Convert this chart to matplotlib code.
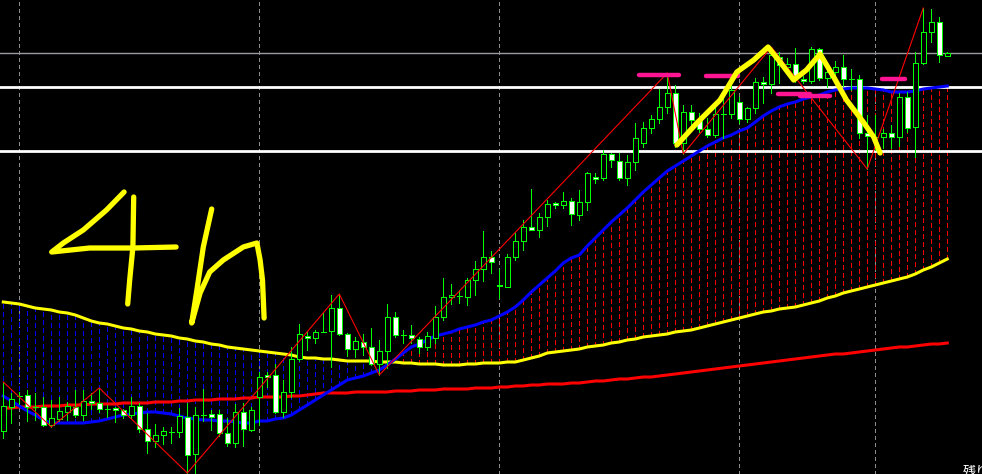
import numpy as np
import matplotlib
matplotlib.use("Agg")
import matplotlib.pyplot as plt

# 4h candles, price in pips above the bottom of the window
opens = [43, 67, 78, 79, 67, 67, 49, 55, 62, 67, 59, 73, 71, 65, 66, 64, 59, 68, 45, 33,
         39, 42, 42, 57, 20, 59, 60, 60, 41, 31, 62, 44, 77, 99, 99, 62, 82, 115, 138, 136,
         142, 143, 166, 140, 125, 132, 127, 110, 123, 157, 139, 139, 135, 127, 136, 157, 177, 178, 177, 194,
         205, 217, 189, 187, 217, 233, 247, 244, 257, 271, 269, 273, 259, 272, 297, 296, 320, 313, 296, 312,
         331, 346, 355, 367, 381, 331, 362, 354, 345, 339, 360, 360, 372, 355, 366, 392, 390, 417, 407, 410,
         395, 393, 425, 396, 402, 407, 395, 395, 341, 337, 337, 341, 337, 377, 347, 411, 442, 452, 418]
highs = [92, 81, 82, 84, 81, 77, 74, 77, 72, 84, 84, 81, 86, 69, 67, 65, 77, 71, 61, 50,
         47, 47, 66, 71, 67, 85, 64, 64, 56, 70, 71, 67, 102, 102, 110, 94, 127, 150, 142, 144,
         161, 179, 180, 141, 137, 140, 146, 134, 170, 162, 144, 149, 137, 142, 168, 196, 190, 184, 196, 213,
         243, 223, 205, 220, 241, 254, 285, 261, 274, 272, 282, 276, 284, 302, 301, 324, 321, 321, 319, 351,
         352, 359, 385, 401, 389, 369, 369, 361, 356, 371, 381, 389, 377, 367, 396, 397, 427, 422, 416, 426,
         398, 427, 426, 410, 413, 419, 405, 399, 359, 359, 345, 349, 381, 382, 422, 466, 465, 457, 422]
lows = [36, 51, 70, 53, 54, 48, 47, 53, 54, 57, 54, 65, 62, 57, 52, 56, 56, 42, 21, 27,
        30, 31, 37, 1, 1, 53, 44, 38, 28, 27, 28, 43, 49, 87, 61, 57, 77, 113, 124, 131,
        142, 107, 139, 118, 117, 119, 109, 99, 106, 137, 131, 131, 121, 124, 131, 154, 170, 171, 169, 179,
        193, 201, 176, 187, 214, 224, 244, 237, 248, 266, 266, 249, 254, 264, 291, 294, 307, 294, 289, 304,
        327, 341, 351, 361, 327, 320, 347, 342, 337, 337, 336, 356, 351, 352, 361, 371, 381, 391, 403, 392,
        391, 391, 394, 387, 399, 388, 384, 336, 305, 324, 326, 326, 328, 342, 317, 410, 432, 412, 418]
closes = [68, 75, 78.5, 67, 67.5, 49, 56, 63, 68, 59, 73, 71, 65, 65.5, 64, 59, 68, 45, 33, 39,
          43, 42.5, 58, 19, 59, 59.5, 57, 41, 31, 62, 45, 64, 97, 97, 62, 82, 115, 140, 136, 142,
          142.5, 166, 140, 125, 133, 127, 110, 123, 157, 139, 139.5, 136, 127, 138, 157, 177, 179, 178.5, 194, 205,
          217, 212, 188, 217, 233, 247, 244, 257, 270, 269, 273, 260, 272, 301, 295, 320, 314, 296, 312, 336,
          346, 355, 367, 381, 331, 362, 354, 345, 339, 360, 360.5, 384, 355, 366, 392, 390, 419, 409, 410, 398,
          393, 425, 396, 402, 407, 395, 395.5, 341, 338, 337.5, 341, 337, 377, 346, 411, 442, 452, 419, 421]

# moving averages, one value per candle
ma_blue = [78, 73, 68, 63, 59, 54, 51, 51, 51, 51, 51, 52, 53, 55, 57, 59, 60, 61, 62, 62,
           61, 60, 58, 56, 55, 54, 54, 53, 53, 52, 51, 51, 53, 53, 55, 56, 59, 64, 69, 74,
           79, 84, 89, 94, 96, 98, 101, 104, 109, 115, 121, 127, 130, 134, 138, 140, 142, 145, 147, 149,
           152, 154, 158, 162, 167, 174, 182, 189, 196, 203, 211, 216, 219, 228, 236, 244, 252, 259, 266, 274,
           282, 289, 296, 303, 308, 313, 318, 323, 328, 332, 336, 339, 343, 346, 352, 358, 363, 367, 370, 372,
           375, 377, 379, 382, 384, 385, 386, 386, 386, 385, 384, 382, 382, 382, 383, 385, 386, 387, 388]
ma_yellow = [172, 171, 170, 168, 166, 165, 164, 162, 161, 159, 156, 153, 151, 150, 148, 146, 145, 143, 142, 140,
             139, 138, 136, 135, 133, 132, 130, 129, 127, 126, 125, 124, 123, 122, 121, 120, 119, 117, 116, 116,
             115, 115, 114, 113, 113, 113, 113, 112, 112, 112, 111, 111, 110, 110, 110, 109, 109, 109, 110, 110,
             111, 111, 111, 112, 112, 114, 116, 118, 121, 122, 123, 124, 125, 127, 128, 129, 131, 132, 134, 135,
             137, 138, 139, 140, 142, 143, 144, 146, 148, 150, 152, 154, 156, 158, 160, 162, 163, 165, 166, 167,
             169, 171, 173, 176, 178, 181, 183, 185, 187, 189, 191, 193, 195, 197, 200, 204, 207, 211, 215]
ma_red = [66, 66, 67, 67, 67, 68, 68, 68, 69, 69, 69, 70, 70, 70, 70, 71, 71, 71, 71, 72,
          72, 72, 73, 73, 74, 74, 74, 75, 75, 75, 76, 76, 77, 77, 77, 77, 78, 78, 79, 80,
          81, 81, 81, 81, 82, 82, 82, 82, 82, 83, 83, 83, 84, 84, 84, 85, 85, 85, 85, 86,
          86, 86, 87, 87, 88, 88, 89, 89, 90, 90, 90, 91, 91, 92, 93, 93, 94, 95, 95, 96,
          97, 97, 98, 99, 100, 101, 102, 103, 104, 105, 106, 107, 108, 109, 110, 111, 112, 113, 114, 115,
          116, 117, 118, 119, 120, 120, 121, 122, 123, 124, 125, 126, 127, 127, 128, 129, 130, 130, 131]

# zigzag turning points: (candle, "H" or "L")
zz_bars = [0, 6, 12, 23, 42, 47, 83, 85, 96, 108, 115]
zz_kind = ["H", "L", "H", "L", "H", "L", "H", "L", "H", "L", "H"]

hlines_grey = [421]
hlines_white = [387, 323]
day_breaks = [2, 32, 62, 92, 109]

# hand drawn stuff
pink_marks = [((79.5, 84.5), 399), ((87.9, 91.9), 398), ((96.8, 100.8), 380),
              ((99.6, 103.3), 378), ((109.9, 112.7), 395)]
m_x = [84.2, 86.7, 89.6, 91.7, 93.8, 95.6, 97.1, 98.8, 100.4, 102.1, 103.8, 105.4, 107.5, 108.8, 109.6]
m_y = [329, 351, 374, 402, 414, 427, 412, 394, 404, 420, 397, 374, 352, 337, 321]
four_a_x = [15.1, 12.9, 10.0, 7.5, 6.05, 10.8, 16.3, 21.6]
four_a_y = [282, 264, 244, 231, 222, 226, 226, 227]
four_b_x = [16.3, 16.2, 15.8, 15.55]
four_b_y = [277, 227, 194, 170]
h_x = [26.05, 25.0, 24.2, 23.55, 24.6, 25.8, 27.5, 30.0, 31.7, 32.1, 32.4, 32.6]
h_y = [265, 227, 184, 151, 181, 202, 214, 227, 231, 214, 194, 156]

o = np.array(opens, float)
h = np.array(highs, float)
l = np.array(lows, float)
c = np.array(closes, float)
x = np.arange(len(o))

fig = plt.figure(figsize=(9.82, 4.74), dpi=100, facecolor="black")
ax = fig.add_axes([0, 0, 1, 1])
ax.set_facecolor("black")
ax.set_xlim(-0.4125, 122.34)
ax.set_ylim(0, 474)
ax.axis("off")

px = 0.72  # one pixel at 100 dpi

# day separators
for d in day_breaks:
    ax.axvline(d, color="#8c8c8c", lw=px, ls=(0, (4, 4)), zorder=0.5, antialiased=False)

# dashed columns between the fast and slow MA
blue = np.array(ma_blue, float)
yel = np.array(ma_yellow, float)
up = blue > yel
dash = (0, (5, 3))
ax.vlines(x[~up], blue[~up], yel[~up], colors="#0000ff", lw=px, linestyles=dash,
          zorder=1, antialiased=False)
ax.vlines(x[up], yel[up], blue[up], colors="#ff0000", lw=px, linestyles=dash,
          zorder=1, antialiased=False)

ax.plot(x, ma_red, color="#ff0000", lw=2.2, zorder=2)
ax.plot(x, ma_yellow, color="#ffff00", lw=2.2, zorder=2)
ax.plot(x, ma_blue, color="#0000ff", lw=2.2, zorder=2)

for lv in hlines_grey:
    ax.axhline(lv, color="#9a9aa2", lw=1.0, zorder=1.5)
for lv in hlines_white:
    ax.axhline(lv, color="white", lw=2.0, zorder=1.5)

# candles
ax.vlines(x, l, h, colors="#00ff00", lw=px, zorder=3, antialiased=False)
face = np.where(c < o, "white", "black")
ax.bar(x, c - o, bottom=o, width=0.6, color=face, edgecolor="#00ff00", linewidth=px,
       zorder=4, antialiased=False)

# zigzag
zz_y = [h[b] if k == "H" else l[b] for b, k in zip(zz_bars, zz_kind)]
ax.plot(zz_bars, zz_y, color="#ff0000", lw=0.8, zorder=5)

# annotations drawn on the chart
for (xa, xb), lv in pink_marks:
    ax.plot([xa, xb], [lv, lv], color="#ff1493", lw=3.2, solid_capstyle="round", zorder=6)
hand = dict(color="#ffff00", lw=3.8, solid_capstyle="round", solid_joinstyle="round", zorder=7)
ax.plot(m_x, m_y, **hand)
ax.plot(four_a_x, four_a_y, **hand)
ax.plot(four_b_x, four_b_y, **hand)
ax.plot(h_x, h_y, **hand)

ax.text(119.9, 8, "残り", color="white", fontsize=9.5, va="top", ha="left",
        family=["Noto Sans CJK JP", "DejaVu Sans"], zorder=8)

fig.savefig("out.png", dpi=100, facecolor="black")
